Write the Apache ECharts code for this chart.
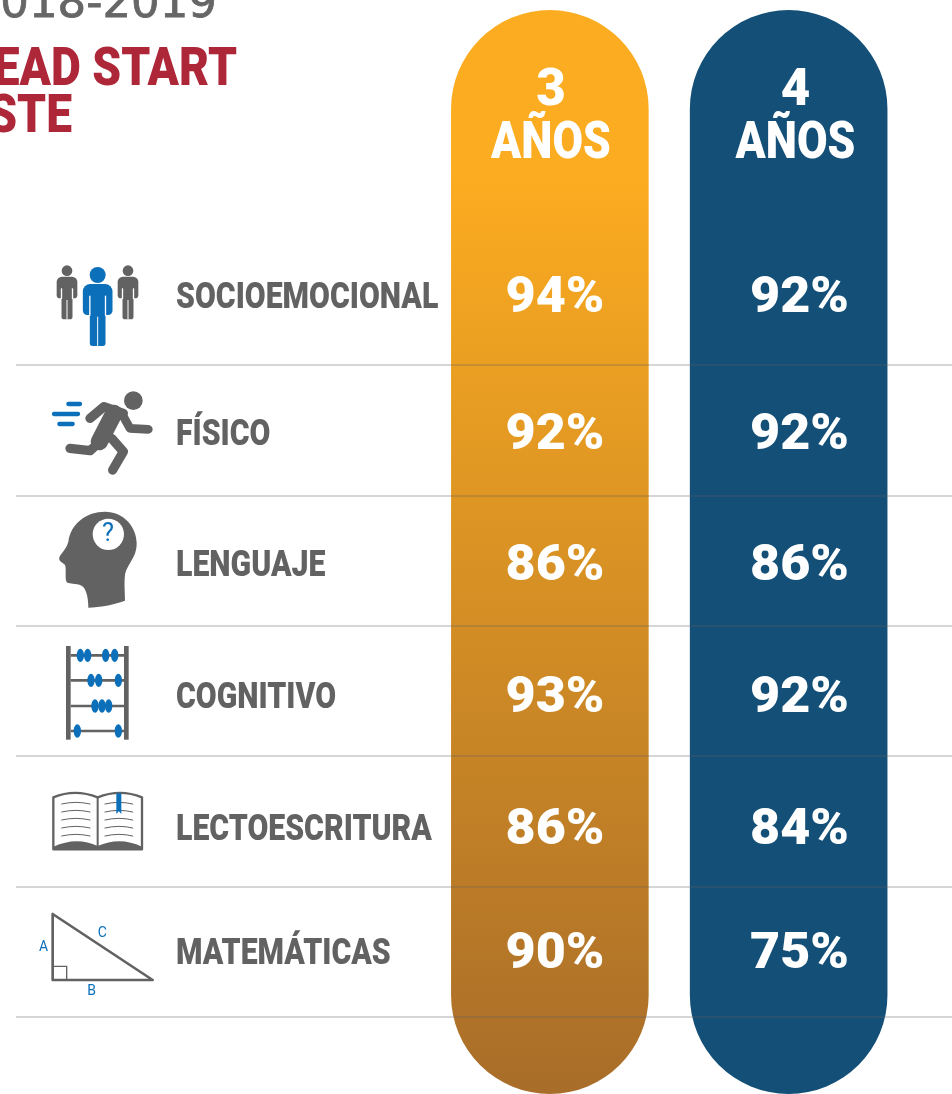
<!DOCTYPE html>
<html>
<head>
<meta charset="utf-8">
<script src="https://cdn.jsdelivr.net/npm/echarts@6/dist/echarts.min.js"></script>
<style>
html, body { margin: 0; padding: 0; background: #fff; overflow: hidden; }
#main { width: 952px; height: 1094px; }
</style>
</head>
<body>
<div id="main"></div>
<script>
// datos
var rows = ['SOCIOEMOCIONAL', 'FÍSICO', 'LENGUAJE', 'COGNITIVO', 'LECTOESCRITURA', 'MATEMÁTICAS'];
var ages = ['3\nAÑOS', '4\nAÑOS'];
var age3 = [94, 92, 86, 93, 86, 90];
var age4 = [92, 92, 86, 92, 84, 75];
var pillFull = [100, 100];

var GRAY = '#626262', BLUE = '#0B6FBA', RED = '#AE2739', FONT = 'Roboto';
// desplazamiento vertical de los textos en cada fila, como en el original
var rowNudge = [-1, 5.5, 7, 8, 10, 4];

var myChart = echarts.init(document.getElementById('main'));

function rowLabels(params, api) {
  var i = api.value(0);
  var p = api.coord([0, i]);
  return {
    type: 'text', x: 176, y: p[1] + rowNudge[i], scaleX: 0.84,
    style: {
      text: rows[i], fill: GRAY, fontFamily: FONT, fontWeight: 900, fontSize: 36,
      align: 'left', verticalAlign: 'middle'
    }
  };
}

function valueLabels(params, api) {
  var p = api.coord([api.value(0), api.value(1)]);
  return {
    type: 'text', x: p[0], y: p[1] + rowNudge[api.value(1)], scaleX: 1.04,
    style: {
      text: api.value(2) + '%', fill: '#fff', fontFamily: FONT, fontWeight: 900, fontSize: 50,
      align: 'center', verticalAlign: 'middle'
    }
  };
}

function headerLabels(params, api) {
  var p = api.coord([api.value(0), 0]);
  var parts = ages[api.value(0)].split('\n');
  var st = { fill: '#fff', fontFamily: FONT, fontWeight: 900, fontSize: 51, align: 'center', verticalAlign: 'middle' };
  return {
    type: 'group',
    children: [
      { type: 'text', x: p[0] - 4, y: 92, style: echarts.util.extend({ text: parts[0] }, st) },
      { type: 'text', x: p[0] - 4, y: 145, scaleX: 0.87, style: echarts.util.extend({ text: parts[1] }, st) }
    ]
  };
}

function person(cx, headY, headR, top, w, armEnd, legW, legEnd, color) {
  return [
    { type: 'circle', shape: { cx: cx, cy: headY, r: headR }, style: { fill: color } },
    { type: 'rect', shape: { x: cx - w / 2, y: top, width: w, height: armEnd - top, r: [w * 0.25, w * 0.25, w * 0.15, w * 0.15] }, style: { fill: color } },
    { type: 'rect', shape: { x: cx - legW / 2, y: top + 20, width: legW, height: legEnd - top - 20, r: [0, 0, 8, 8] }, style: { fill: color } },
    { type: 'line', shape: { x1: cx - legW / 2, y1: top + 35, x2: cx - legW / 2, y2: armEnd + 2 }, style: { stroke: '#fff', lineWidth: 4 } },
    { type: 'line', shape: { x1: cx + legW / 2, y1: top + 35, x2: cx + legW / 2, y2: armEnd + 2 }, style: { stroke: '#fff', lineWidth: 4 } },
    { type: 'line', shape: { x1: cx, y1: armEnd + 5, x2: cx, y2: legEnd }, style: { stroke: '#fff', lineWidth: 3 } }
  ];
}

function stroke(d, w, color) {
  return { type: 'path', shape: { pathData: d }, style: { fill: null, stroke: color || GRAY, lineWidth: w, lineCap: 'round', lineJoin: 'round' } };
}

function bead(x, y) {
  return { type: 'ellipse', shape: { cx: x, cy: y, rx: 11, ry: 20 }, style: { fill: BLUE } };
}

function iconText(t, x, y, size, color, weight) {
  return { type: 'text', x: x, y: y, style: { text: t, fill: color, fontFamily: FONT, fontSize: size, fontWeight: weight || 'normal', align: 'center', verticalAlign: 'middle' } };
}

// los iconos van en coordenadas del recorte x3
function icon(x, y, children) {
  return { type: 'group', x: x, y: y, scaleX: 1 / 3, scaleY: 1 / 3, children: children };
}

var peopleIcon = icon(40, 250, [].concat(
  person(81, 62, 16, 80, 62, 145, 33, 208, GRAY),
  person(264, 62, 16, 80, 62, 145, 33, 208, GRAY),
  person(173, 75, 24, 102, 89, 195, 47, 288, BLUE)
));

var runnerIcon = icon(40, 250, [
  { type: 'circle', shape: { cx: 280, cy: 452, r: 28 }, style: { fill: GRAY } },
  stroke('M150,505 L192,470 L250,490', 28),
  stroke('M245,490 L270,535 L325,538', 26),
  stroke('M222,490 L178,575', 52),
  stroke('M215,565 L250,605 L218,660', 28),
  stroke('M175,580 L150,602 L90,595', 28),
  stroke('M85,462 L120,462', 13, BLUE),
  stroke('M42,492 L114,492', 13, BLUE),
  stroke('M58,522 L98,522', 13, BLUE)
]);

var headIcon = icon(40, 500, [
  { type: 'path', shape: { pathData: 'M145,323 C145,290 138,258 118,254 C100,250 85,252 80,246 C74,236 80,205 75,195 C68,188 55,185 58,172 C62,160 78,150 85,125 C92,70 140,35 195,35 C250,35 290,80 290,130 C290,175 262,190 255,225 C252,250 255,280 255,302 C220,315 180,321 145,323 Z' }, style: { fill: GRAY } },
  { type: 'circle', shape: { cx: 205, cy: 103, r: 47 }, style: { fill: '#fff' } },
  iconText('?', 204, 104, 76, BLUE)
]);

var abacusIcon = icon(40, 500, [
  { type: 'rect', shape: { x: 78, y: 438, width: 14, height: 281 }, style: { fill: GRAY } },
  { type: 'rect', shape: { x: 252, y: 438, width: 14, height: 281 }, style: { fill: GRAY } },
  { type: 'rect', shape: { x: 92, y: 462, width: 160, height: 8 }, style: { fill: GRAY } },
  { type: 'rect', shape: { x: 92, y: 537, width: 160, height: 8 }, style: { fill: GRAY } },
  { type: 'rect', shape: { x: 92, y: 614, width: 160, height: 8 }, style: { fill: GRAY } },
  { type: 'rect', shape: { x: 92, y: 689, width: 160, height: 8 }, style: { fill: GRAY } },
  bead(121, 466), bead(143, 466), bead(197, 466), bead(224, 466),
  bead(153, 541), bead(176, 541), bead(235, 541),
  bead(165, 618), bead(186, 618), bead(206, 618),
  bead(112, 693), bead(235, 693)
]);

var bookIcon = icon(30, 770, [
  { type: 'path', shape: { pathData: 'M70,238 L70,230 Q140,198 203,228 Q270,198 336,230 L336,238 Z' }, style: { fill: GRAY } },
  stroke('M70,238 L70,82 Q135,55 203,82 Q270,55 336,82 L336,238 Z', 7),
  stroke('M203,82 L203,228', 6),
  stroke('M95,102 Q138,92 180,102', 3), stroke('M95,126 Q138,116 180,126', 3),
  stroke('M95,150 Q138,140 180,150', 3), stroke('M95,174 Q138,164 180,174', 3),
  stroke('M95,198 Q138,188 180,198', 3),
  stroke('M225,102 Q268,92 308,102', 3), stroke('M225,126 Q268,116 308,126', 3),
  stroke('M225,150 Q268,140 308,150', 3), stroke('M225,174 Q268,164 308,174', 3),
  stroke('M225,198 Q268,188 308,198', 3),
  { type: 'path', shape: { pathData: 'M259,70 L274,70 L274,132 L266.5,124 L259,132 Z' }, style: { fill: BLUE } }
]);

var triangleIcon = icon(30, 770, [
  stroke('M68,432 L68,630 L368,630 Z', 8),
  { type: 'rect', shape: { x: 70, y: 589, width: 40, height: 41 }, style: { fill: null, stroke: GRAY, lineWidth: 4 } },
  iconText('A', 41, 533, 42, BLUE),
  iconText('C', 217, 491, 42, BLUE),
  iconText('B', 185, 663, 42, BLUE)
]);

var rowIcons = [peopleIcon, runnerIcon, headIcon, abacusIcon, bookIcon, triangleIcon];

function iconItems(params, api) {
  return rowIcons[api.value(0)];
}

function headline(t, right, y, size, color, sx, weight, family, line) {
  return {
    type: 'text', x: right, y: y, scaleX: sx, z: 6, silent: true,
    style: { text: t, fill: color, stroke: line ? color : null, lineWidth: line || 0, fontFamily: family || FONT, fontSize: size, fontWeight: weight, align: 'right', verticalAlign: 'middle' }
  };
}

var option = {
  animation: false,
  backgroundColor: '#fff',
  grid: [
    { left: 16, right: 0, top: 234.6, height: 782 },
    { left: 430.45, width: 477.6, top: 10, height: 1087 },
    { left: 432.75, width: 489, top: 235, height: 782 }
  ],
  xAxis: [
    { gridIndex: 0, type: 'value', show: false },
    { gridIndex: 1, type: 'category', data: ages, show: false },
    { gridIndex: 2, type: 'category', data: ages, show: false }
  ],
  yAxis: [
    {
      gridIndex: 0, type: 'category', data: rows, inverse: true, z: 4,
      axisLine: { show: false }, axisTick: { show: false }, axisLabel: { show: false },
      splitLine: { show: true, showMinLine: false, interval: 0, lineStyle: { color: 'rgba(96,96,96,0.26)', width: 2 } }
    },
    { gridIndex: 1, type: 'value', min: 0, max: 100, show: false, splitLine: { show: false } },
    { gridIndex: 2, type: 'category', data: rows, inverse: true, show: false }
  ],
  series: [
    {
      name: 'fondo', type: 'bar', xAxisIndex: 1, yAxisIndex: 1, barWidth: 197.6, z: 2, silent: true,
      data: [
        {
          value: pillFull[0],
          itemStyle: {
            borderRadius: 98.8,
            color: new echarts.graphic.LinearGradient(0, 0, 0, 1, [
              { offset: 0, color: '#FCAC20' },
              { offset: 0.15, color: '#FCAC20' },
              { offset: 1, color: '#A86D29' }
            ])
          }
        },
        { value: pillFull[1], itemStyle: { borderRadius: 98.8, color: '#134F77' } }
      ]
    },
    { name: 'iconos', type: 'custom', xAxisIndex: 0, yAxisIndex: 0, z: 6, silent: true, renderItem: iconItems, data: rows.map(function (r, i) { return [i]; }), encode: { y: 0 } },
    { name: 'filas', type: 'custom', xAxisIndex: 0, yAxisIndex: 0, z: 6, silent: true, renderItem: rowLabels, data: rows.map(function (r, i) { return [i]; }), encode: { y: 0 } },
    { name: 'encabezados', type: 'custom', xAxisIndex: 2, yAxisIndex: 2, z: 6, silent: true, renderItem: headerLabels, data: [[0], [1]], encode: { x: 0 } },
    { name: '3 AÑOS', type: 'custom', xAxisIndex: 2, yAxisIndex: 2, z: 6, silent: true, renderItem: valueLabels, data: age3.map(function (v, i) { return [0, i, v]; }), encode: { x: 0, y: 1 } },
    { name: '4 AÑOS', type: 'custom', xAxisIndex: 2, yAxisIndex: 2, z: 6, silent: true, renderItem: valueLabels, data: age4.map(function (v, i) { return [1, i, v]; }), encode: { x: 0, y: 1 } }
  ],
  graphic: [
    headline('018-2019', 217, 5, 45, '#666666', 1, 'normal', 'DejaVu Sans', 0.8),
    headline('EAD START', 237, 72, 53, RED, 0.87, 900),
    headline('STE', 72, 119, 53, RED, 0.87, 900)
  ]
};

myChart.setOption(option);
</script>
</body>
</html>
